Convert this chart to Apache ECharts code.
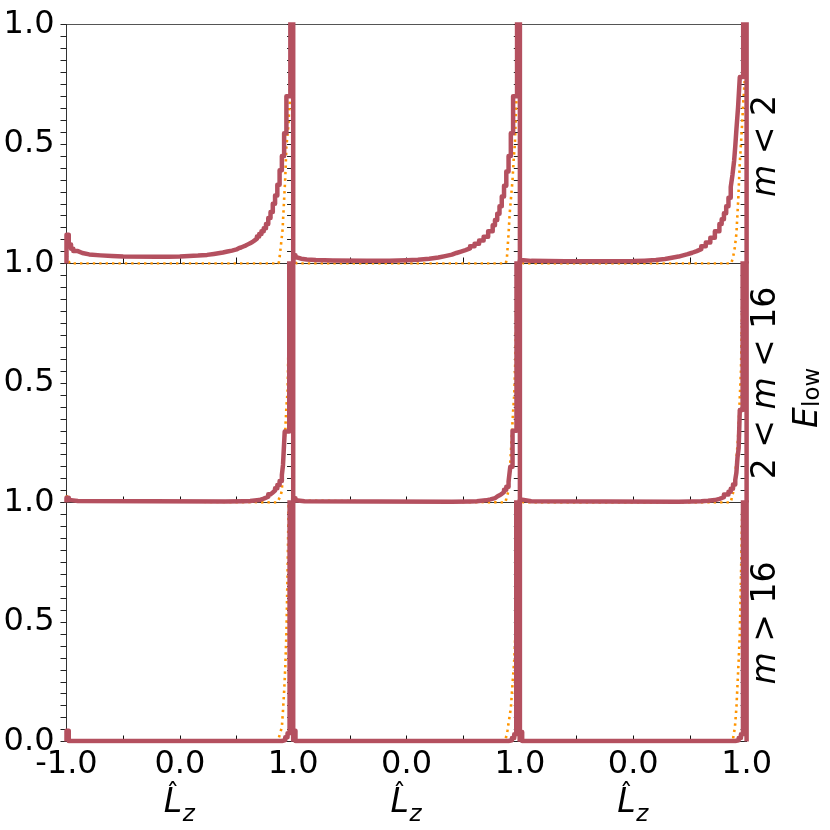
<!DOCTYPE html>
<html><head><meta charset="utf-8">
<script src="https://cdn.jsdelivr.net/npm/echarts@6.0.0/dist/echarts.min.js"></script>
<style>html,body{margin:0;padding:0;background:#fff}#c{width:830px;height:830px}</style>
</head><body><div id="c"></div>
<script>
// ---------- DATA (histogram bin left edges + heights) ----------
const xTickLabels = ['-1.0', '0.0', '1.0'];
const yTickLabels = ['0.0', '0.5', '1.0'];

// row 1 : m < 2
const E11 = [-1, -0.98, -0.96, -0.94, -0.9, -0.86, -0.8, -0.7, -0.6, -0.5, -0.2, -0.1, 0, 0.08, 0.16, 0.24, 0.3, 0.34, 0.38, 0.42, 0.46, 0.5, 0.52, 0.54, 0.56, 0.58, 0.6, 0.62, 0.64, 0.66, 0.68, 0.7, 0.72, 0.74, 0.76, 0.78, 0.8, 0.82, 0.84, 0.86, 0.88, 0.9, 0.92, 0.94, 0.975];
const V11 = [0.12, 0.08, 0.062, 0.052, 0.044, 0.038, 0.034, 0.031, 0.029, 0.028, 0.028, 0.029, 0.031, 0.033, 0.036, 0.04, 0.043, 0.046, 0.05, 0.054, 0.059, 0.064, 0.067, 0.071, 0.075, 0.08, 0.085, 0.09, 0.097, 0.104, 0.113, 0.123, 0.135, 0.148, 0.165, 0.19, 0.215, 0.25, 0.285, 0.33, 0.39, 0.45, 0.545, 0.70, 1.6];
const E12 = [-1, -0.98, -0.96, -0.93, -0.88, -0.8, -0.65, -0.35, -0.15, 0, 0.1, 0.2, 0.28, 0.34, 0.4, 0.44, 0.48, 0.52, 0.56, 0.6, 0.64, 0.68, 0.72, 0.76, 0.78, 0.8, 0.82, 0.84, 0.86, 0.88, 0.9, 0.92, 0.94, 0.975];
const V12 = [0.035, 0.025, 0.02, 0.017, 0.015, 0.013, 0.012, 0.012, 0.014, 0.016, 0.02, 0.025, 0.031, 0.037, 0.044, 0.05, 0.056, 0.063, 0.072, 0.083, 0.096, 0.112, 0.135, 0.16, 0.182, 0.208, 0.24, 0.28, 0.325, 0.385, 0.45, 0.545, 0.70, 1.6];
const E13 = [-1, -0.97, -0.9, -0.6, -0.3, 0, 0.1, 0.2, 0.28, 0.34, 0.4, 0.44, 0.48, 0.52, 0.56, 0.6, 0.64, 0.68, 0.72, 0.76, 0.78, 0.8, 0.82, 0.84, 0.86, 0.875, 0.89, 0.9, 0.91, 0.925, 0.94, 0.97];
const V13 = [0.014, 0.011, 0.009, 0.009, 0.01, 0.012, 0.015, 0.019, 0.024, 0.029, 0.034, 0.039, 0.045, 0.052, 0.06, 0.072, 0.088, 0.108, 0.135, 0.165, 0.185, 0.21, 0.24, 0.275, 0.32, 0.37, 0.43, 0.49, 0.56, 0.655, 0.78, 1.6];
const O11x = [-1, -0.985, -0.97, 0.87, 0.876, 0.888, 0.906, 0.918, 0.93, 0.94, 0.956, 0.97, 0.985, 1];
const O11y = [0.035, 0.012, 0, 0, 0.01, 0.06, 0.14, 0.25, 0.36, 0.49, 0.57, 0.68, 1.2, 1.6];
const O12x = [-1, -0.985, -0.97, 0.875, 0.885, 0.9, 0.91, 0.935, 0.947, 0.956, 0.965, 0.977, 0.99, 1];
const O12y = [0.03, 0.01, 0, 0, 0.02, 0.125, 0.21, 0.35, 0.45, 0.5, 0.64, 0.75, 1.2, 1.6];
const O13x = [-1, -0.985, -0.97, 0.865, 0.882, 0.897, 0.91, 0.926, 0.94, 0.956, 0.97, 0.985, 1];
const O13y = [0.03, 0.01, 0, 0, 0.03, 0.07, 0.125, 0.265, 0.42, 0.545, 0.67, 0.78, 1.3];

// row 2 : 2 < m < 16
const E21 = [-1, -0.98, -0.96, -0.9, 0.4, 0.56, 0.62, 0.66, 0.7, 0.74, 0.78, 0.8, 0.82, 0.84, 0.86, 0.88, 0.9, 0.91, 0.925, 0.965];
const V21 = [0.02, 0.01, 0.006, 0.004, 0.005, 0.006, 0.008, 0.01, 0.016, 0.024, 0.034, 0.042, 0.05, 0.06, 0.073, 0.09, 0.115, 0.157, 0.297, 1.6];
const E22 = [-1, -0.98, -0.96, -0.9, 0.4, 0.56, 0.62, 0.66, 0.7, 0.74, 0.78, 0.8, 0.82, 0.84, 0.86, 0.88, 0.9, 0.915, 0.935, 0.97];
const V22 = [0.018, 0.008, 0.005, 0.003, 0.004, 0.005, 0.007, 0.009, 0.013, 0.018, 0.025, 0.03, 0.036, 0.044, 0.053, 0.066, 0.088, 0.15, 0.30, 1.6];
const E23 = [-1, -0.98, -0.9, 0.4, 0.5, 0.6, 0.66, 0.72, 0.76, 0.8, 0.84, 0.86, 0.88, 0.9, 0.91, 0.92, 0.93, 0.94, 0.965];
const V23 = [0.012, 0.005, 0.003, 0.004, 0.005, 0.007, 0.01, 0.015, 0.022, 0.033, 0.045, 0.058, 0.075, 0.095, 0.125, 0.19, 0.227, 0.387, 1.6];
const O21x = [-1, -0.985, -0.97, 0.86, 0.87, 0.89, 0.9, 0.91, 0.92, 0.93, 0.94, 0.95, 0.96, 0.97, 0.985];
const O21y = [0.03, 0.008, 0, 0, 0.01, 0.03, 0.05, 0.15, 0.22, 0.3, 0.4, 0.46, 0.7, 1.0, 1.5];
const O22x = [-1, -0.985, -0.97, 0.87, 0.88, 0.9, 0.91, 0.925, 0.94, 0.95, 0.96, 0.975, 0.99];
const O22y = [0.03, 0.008, 0, 0, 0.015, 0.05, 0.12, 0.25, 0.38, 0.45, 0.6, 1.0, 1.5];
const O23x = [-1, -0.985, -0.97, 0.86, 0.88, 0.897, 0.91, 0.925, 0.94, 0.95, 0.96, 0.975, 0.99];
const O23y = [0.03, 0.01, 0, 0, 0.04, 0.095, 0.18, 0.275, 0.44, 0.55, 0.8, 1.1, 1.5];

// row 3 : m > 16
const E31 = [-1, -0.98, 0.9, 0.93, 0.95, 0.968];
const V31 = [0.045, 0.002, 0.006, 0.018, 0.035, 1.6];
const E32 = [-1, -0.98, 0.9, 0.93, 0.95, 0.968];
const V32 = [0.045, 0.002, 0.005, 0.015, 0.03, 1.6];
const E33 = [-1, -0.98, 0.9, 0.93, 0.95, 0.968];
const V33 = [0.04, 0.002, 0.005, 0.015, 0.03, 1.6];
const O31x = [-1, -0.985, -0.97, 0.86, 0.87, 0.9, 0.91, 0.92, 0.93, 0.94, 0.95, 0.96, 0.975];
const O31y = [0.02, 0.005, 0, 0, 0.01, 0.06, 0.13, 0.21, 0.31, 0.45, 0.7, 1.0, 1.4];
const O32x = [-1, -0.985, -0.97, 0.87, 0.89, 0.92, 0.95, 0.96, 0.975];
const O32y = [0.02, 0.005, 0, 0, 0.045, 0.14, 0.34, 0.45, 1.2];
const O33x = [-1, -0.985, -0.97, 0.87, 0.88, 0.897, 0.91, 0.92, 0.93, 0.94, 0.955, 0.975];
const O33y = [0.02, 0.005, 0, 0, 0.01, 0.06, 0.14, 0.24, 0.34, 0.45, 0.8, 1.3];

// ---------- BUILD ----------
const panels = [
  [E11, V11, O11x, O11y], [E12, V12, O12x, O12y], [E13, V13, O13x, O13y],
  [E21, V21, O21x, O21y], [E22, V22, O22x, O22y], [E23, V23, O23x, O23y],
  [E31, V31, O31x, O31y], [E32, V32, O32x, O32y], [E33, V33, O33x, O33y]
];
const F = 'DejaVu Sans';
const colLeft = [66.5, 293.2, 519.9], rowTop = [24.5, 263.5, 502.5], PW = 226.7, PH = 239;
const RED = '#b4505f', ORANGE = '#ff9500', AX = '#333';

function stepData(E, V) { const d = [[E[0], 0]]; E.forEach((e, i) => d.push([e, V[i]])); d.push([1, 0]); return d; }
function lineData(X, Y) { return X.map((x, i) => [x, Y[i]]); }
const near = (a, b) => Math.abs(a - b) < 1e-6;

const grid = [], xAxis = [], yAxis = [], series = [];
panels.forEach((p, i) => {
  const r = Math.floor(i / 3), c = i % 3;
  grid.push({left: colLeft[c], top: rowTop[r], width: PW, height: PH, show: true, borderColor: '#555', borderWidth: 1, backgroundColor: 'transparent', containLabel: false, outerBoundsMode: 'none'});
  xAxis.push({
    gridIndex: i, type: 'value', min: -1, max: 1, interval: 0.5,
    axisLine: {show: true, onZero: false, lineStyle: {color: AX, width: 1}},
    axisTick: {show: true, inside: true, length: 6, lineStyle: {color: '#111', width: 1}},
    axisLabel: {show: r === 2, showMinLabel: true, showMaxLabel: true, fontSize: 32, fontFamily: F, color: '#000', margin: 7,
      formatter: v => near(v, -1) ? (c === 0 ? xTickLabels[0] : '') : near(v, 0) ? xTickLabels[1] : near(v, 1) ? xTickLabels[2] : ''},
    splitLine: {show: false}
  });
  yAxis.push({
    gridIndex: i, type: 'value', min: 0, max: 1, interval: 0.05, position: 'left',
    axisLine: {show: true, onZero: false, lineStyle: {color: AX, width: 1}},
    axisTick: {show: true, inside: false, length: 6, lineStyle: {color: '#222', width: 1}},
    axisLabel: {show: c === 0, showMinLabel: true, showMaxLabel: true, fontSize: 32, fontFamily: F, color: '#000', margin: 12,
      formatter: v => near(v, 1) ? yTickLabels[2] : near(v, 0.5) ? yTickLabels[1] : (near(v, 0) && r === 2) ? yTickLabels[0] : ''},
    splitLine: {show: false}
  });
  yAxis.push({
    gridIndex: i, type: 'value', min: 0, max: 1, interval: 0.05, position: 'right',
    axisLine: {show: true, onZero: false, lineStyle: {color: AX, width: 1}},
    axisTick: {show: true, inside: true, length: 6, lineStyle: {color: '#222', width: 1}},
    axisLabel: {show: false}, splitLine: {show: false}
  });
  series.push({type: 'line', xAxisIndex: i, yAxisIndex: 2 * i, data: lineData(p[2], p[3]), symbol: 'none', showSymbol: false, silent: true, z: 2,
    emphasis: {disabled: true}, lineStyle: {color: ORANGE, width: 2.6, type: [2.4, 4]}});
  series.push({type: 'line', xAxisIndex: i, yAxisIndex: 2 * i, data: stepData(p[0], p[1]), step: 'end', symbol: 'none', showSymbol: false, silent: true, z: 3,
    emphasis: {disabled: true}, lineStyle: {color: RED, width: 4.5, join: 'round', cap: 'butt'}});
});

// text labels
const graphic = [];
const itRich = {i: {fontStyle: 'italic', fontSize: 33, fontFamily: F, fill: '#000'}};
function rotLabel(x, y, text) {
  graphic.push({type: 'text', x: x, y: y, rotation: Math.PI / 2, silent: true,
    style: {text: text, rich: itRich, fontSize: 33, fontFamily: F, fill: '#000', align: 'center', verticalAlign: 'middle'}});
}
rotLabel(766, 146, '{i|m} < 2');
rotLabel(766, 383, '2 < {i|m} < 16');
rotLabel(766, 623, '{i|m} > 16');
// E_low (rotated)
graphic.push({type: 'text', x: 808.5, y: 428, rotation: Math.PI / 2, silent: true,
  style: {text: 'E', fontSize: 33, fontStyle: 'italic', fontFamily: F, fill: '#000', align: 'left', verticalAlign: 'middle'}});
graphic.push({type: 'text', x: 813, y: 407, rotation: Math.PI / 2, silent: true,
  style: {text: 'low', fontSize: 23, fontFamily: F, fill: '#000', align: 'left', verticalAlign: 'middle'}});
// L-hat_z under each column
[0, 1, 2].forEach(c => {
  const cx = colLeft[c] + PW / 2;
  graphic.push({type: 'text', x: cx - 16, y: 803, silent: true,
    style: {text: 'L', fontSize: 33, fontStyle: 'italic', fontFamily: F, fill: '#000', align: 'left', verticalAlign: 'middle'}});
  graphic.push({type: 'text', x: cx - 7, y: 796, silent: true,
    style: {text: '\u02C6', fontSize: 26, fontFamily: F, fill: '#000', align: 'center', verticalAlign: 'middle'}});
  graphic.push({type: 'text', x: cx + 3, y: 815, silent: true,
    style: {text: 'z', fontSize: 23, fontStyle: 'italic', fontFamily: F, fill: '#000', align: 'left', verticalAlign: 'middle'}});
});

const chart = echarts.init(document.getElementById('c'), null, {renderer: 'canvas'});
chart.setOption({
  animation: false,
  backgroundColor: '#fff',
  textStyle: {fontFamily: F},
  grid, xAxis, yAxis, series, graphic
});
</script></body></html>
